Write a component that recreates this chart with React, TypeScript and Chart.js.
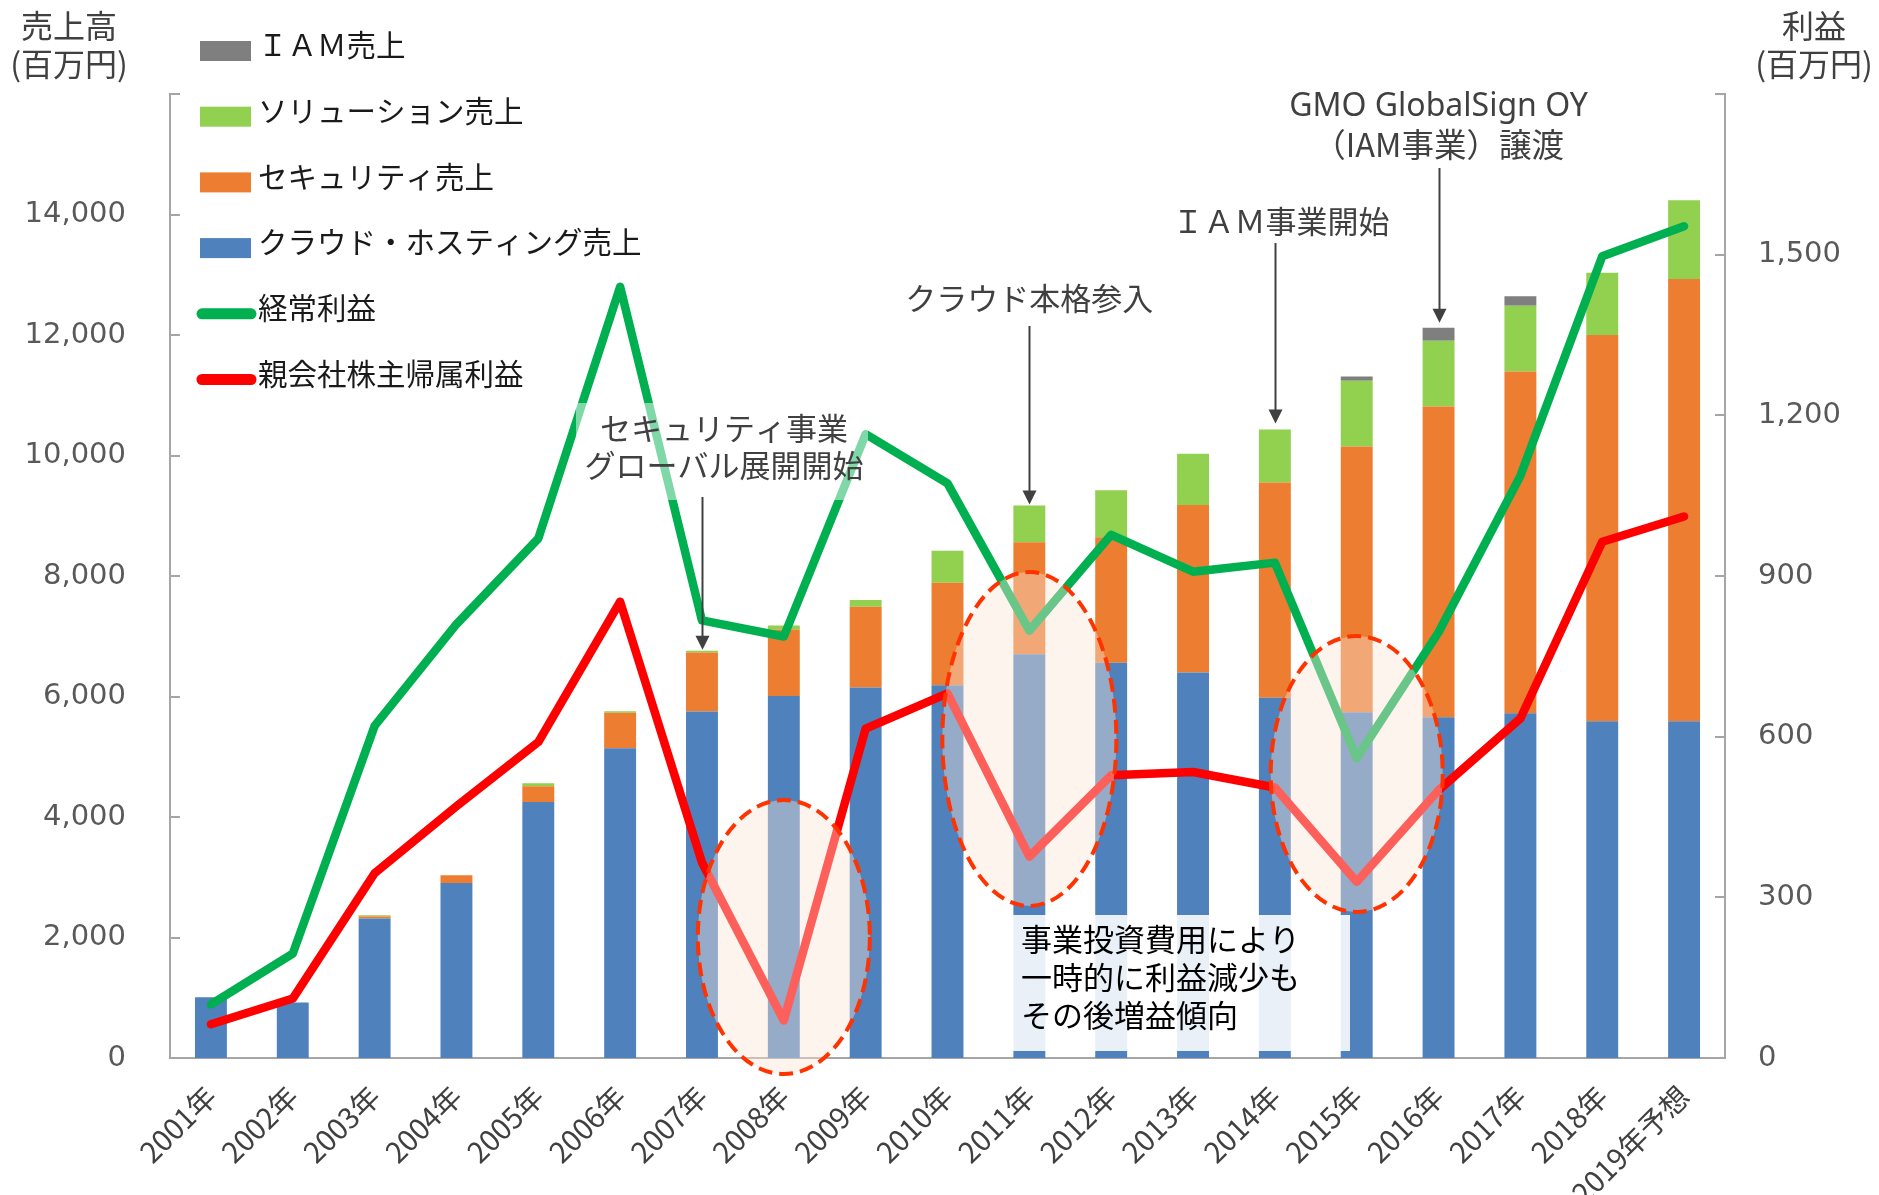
import React, { useEffect, useRef } from 'react';
import { Chart, registerables } from 'chart.js';

Chart.register(...registerables);

// ---- data ----
const categories = ['2001年', '2002年', '2003年', '2004年', '2005年', '2006年', '2007年', '2008年', '2009年', '2010年', '2011年', '2012年', '2013年', '2014年', '2015年', '2016年', '2017年', '2018年', '2019年予想'];

const cloudSales = [1010, 920, 2315, 2905, 4250, 5140, 5750, 6010, 6150, 6185, 6700, 6560, 6400, 5980, 5740, 5655, 5720, 5590, 5590];
const securitySales = [0, 0, 35, 130, 260, 590, 980, 1100, 1340, 1705, 1860, 2085, 2780, 3570, 4410, 5160, 5675, 6410, 7340];
const solutionSales = [0, 0, 20, 0, 50, 25, 30, 70, 110, 530, 610, 780, 850, 880, 1090, 1090, 1090, 1035, 1305];
const iamSales = [0, 0, 0, 0, 0, 0, 0, 0, 0, 0, 0, 0, 0, 0, 70, 215, 160, 0, 0];

const ordinaryProfit = [100, 195, 620, 810, 970, 1440, 817, 787, 1165, 1073, 798, 977, 908, 925, 560, 795, 1087, 1497, 1553];
const netProfit = [63, 111, 345, 470, 590, 852, 365, 70, 615, 681, 376, 528, 534, 505, 329, 500, 634, 964, 1011];

const seriesNames = ['クラウド・ホスティング売上', 'セキュリティ売上', 'ソリューション売上', 'ＩＡＭ売上', '経常利益', '親会社株主帰属利益'];
const legendOrder = [3, 2, 1, 0, 4, 5];

const leftAxisMax = 16000;
const leftAxisStep = 2000;
const rightAxisMax = 1800;
const rightAxisStep = 300;

const leftAxisTitle = ['売上高', '(百万円)'];
const rightAxisTitle = ['利益', '(百万円)'];

const COLORS = ['#4F81BD', '#ED7D31', '#92D050', '#7F7F7F', '#00B050', '#FF0000'];

const JP = '"Noto Sans CJK JP", "Noto Sans", sans-serif';
const LATIN = '"Noto Sans", "Noto Sans CJK JP", sans-serif';
const NUM = '"DejaVu Sans", sans-serif';

const totalAt = (i: number) => cloudSales[i] + securitySales[i] + solutionSales[i] + iamSales[i];

const overlayPlugin = {
  id: 'overlay',
  afterDraw(chart: any) {
    const ctx = chart.ctx as CanvasRenderingContext2D;
    const { left, right } = chart.chartArea;
    const xs = chart.scales.x;
    const ys = chart.scales.y;
    const y1 = chart.scales.y1;

    ctx.save();

    // inside tick marks
    ctx.strokeStyle = '#A6A6A6';
    ctx.lineWidth = 2;
    for (let v = 0; v <= leftAxisMax; v += leftAxisStep) {
      const p = Math.round(ys.getPixelForValue(v));
      ctx.beginPath();
      ctx.moveTo(left, p);
      ctx.lineTo(left + 10, p);
      ctx.stroke();
    }
    for (let v = 0; v <= rightAxisMax; v += rightAxisStep) {
      const p = Math.round(y1.getPixelForValue(v));
      ctx.beginPath();
      ctx.moveTo(right, p);
      ctx.lineTo(right - 10, p);
      ctx.stroke();
    }

    // ellipses
    const ellipses = [
      { idx: 7, cy: 937, rx: 86, ry: 137 },
      { idx: 10, cy: 739, rx: 87, ry: 167 },
      { idx: 14, cy: 774, rx: 86, ry: 138 },
    ];
    for (const e of ellipses) {
      const cx = xs.getPixelForValue(e.idx);
      ctx.beginPath();
      ctx.ellipse(cx, e.cy, e.rx, e.ry, 0, 0, Math.PI * 2);
      ctx.fillStyle = 'rgba(251,229,214,0.42)';
      ctx.fill();
      ctx.setLineDash([14, 7]);
      ctx.lineWidth = 4;
      ctx.strokeStyle = '#FF3300';
      ctx.stroke();
      ctx.setLineDash([]);
    }

    // translucent box behind first annotation
    ctx.fillStyle = 'rgba(255,255,255,0.5)';
    ctx.fillRect(576, 403, 292, 97);

    const arrow = (x: number, yStart: number, yTip: number) => {
      ctx.strokeStyle = '#404040';
      ctx.fillStyle = '#404040';
      ctx.lineWidth = 2;
      ctx.beginPath();
      ctx.moveTo(x, yStart);
      ctx.lineTo(x, yTip - 12);
      ctx.stroke();
      ctx.beginPath();
      ctx.moveTo(x - 7, yTip - 14);
      ctx.lineTo(x + 7, yTip - 14);
      ctx.lineTo(x, yTip);
      ctx.closePath();
      ctx.fill();
    };

    const annotations = [
      { idx: 6, lines: ['セキュリティ事業', 'グローバル展開開始'], fonts: [`31px ${JP}`, `31px ${JP}`], cx: 724, ys: [428, 465], from: 497, gap: 1 },
      { idx: 10, lines: ['クラウド本格参入'], fonts: [`31px ${JP}`], cx: null, ys: [298], from: 326, gap: 1 },
      { idx: 13, lines: ['ＩＡＭ事業開始'], fonts: [`31px ${JP}`], cx: 1281, ys: [221], from: 243, gap: 6 },
      { idx: 15, lines: ['GMO GlobalSign OY', '（IAM事業）譲渡'], fonts: [`32px ${LATIN}`, `32.5px ${JP}`], cx: null, ys: [107, 145], from: 168, gap: 5 },
    ];
    for (const a of annotations) {
      const x = xs.getPixelForValue(a.idx);
      const tip = ys.getPixelForValue(totalAt(a.idx)) - a.gap;
      arrow(Math.round(x) + 0.5, a.from, tip);
      ctx.fillStyle = '#404040';
      ctx.textAlign = 'center';
      ctx.textBaseline = 'middle';
      a.lines.forEach((t, k) => {
        ctx.font = a.fonts[k];
        ctx.fillText(t, a.cx ?? x, a.ys[k]);
      });
    }

    // comment box
    ctx.fillStyle = 'rgba(255,255,255,0.88)';
    ctx.fillRect(1012, 915, 338, 136);
    ctx.fillStyle = '#000000';
    ctx.textAlign = 'left';
    ctx.textBaseline = 'middle';
    ctx.font = `31px ${JP}`;
    ['事業投資費用により', '一時的に利益減少も', 'その後増益傾向'].forEach((t, k) => ctx.fillText(t, 1021, 939 + k * 38));

    // axis titles
    ctx.fillStyle = '#404040';
    ctx.textAlign = 'center';
    ctx.font = `32px ${JP}`;
    ctx.fillText(leftAxisTitle[0], 69, 26);
    ctx.fillText(leftAxisTitle[1], 69, 64);
    ctx.fillText(rightAxisTitle[0], 1814, 26);
    ctx.fillText(rightAxisTitle[1], 1814, 64);

    // legend
    ctx.textAlign = 'left';
    ctx.font = `29.5px ${JP}`;
    legendOrder.forEach((di, row) => {
      const cy = 51 + row * 65.7;
      const color = COLORS[di];
      if (di < 4) {
        ctx.fillStyle = color;
        ctx.fillRect(200, cy - 10, 51, 20);
      } else {
        ctx.strokeStyle = color;
        ctx.lineWidth = 11;
        ctx.lineCap = 'round';
        ctx.beginPath();
        ctx.moveTo(202, cy);
        ctx.lineTo(251, cy);
        ctx.stroke();
        ctx.lineCap = 'butt';
      }
      ctx.fillStyle = '#1a1a1a';
      ctx.fillText(seriesNames[di], 258, cy - 6);
    });

    ctx.restore();
  },
};

export default function App() {
  const ref = useRef<HTMLCanvasElement>(null);

  useEffect(() => {
    document.body.style.margin = '0';
    const canvas = ref.current!;
    const barBase = { type: 'bar' as const, yAxisID: 'y', order: 1, barPercentage: 0.39, categoryPercentage: 1, borderWidth: 0 };
    const lineBase = {
      type: 'line' as const, yAxisID: 'y1', order: 0, borderWidth: 8.5, pointRadius: 0, pointHoverRadius: 0,
      fill: false, tension: 0, borderJoinStyle: 'round' as const, borderCapStyle: 'round' as const,
    };
    const chart = new Chart(canvas, {
      type: 'bar',
      data: {
        labels: categories,
        datasets: [
          { ...barBase, label: seriesNames[0], data: cloudSales, backgroundColor: COLORS[0] },
          { ...barBase, label: seriesNames[1], data: securitySales, backgroundColor: COLORS[1] },
          { ...barBase, label: seriesNames[2], data: solutionSales, backgroundColor: COLORS[2] },
          { ...barBase, label: seriesNames[3], data: iamSales, backgroundColor: COLORS[3] },
          { ...lineBase, label: seriesNames[4], data: ordinaryProfit, borderColor: COLORS[4], backgroundColor: COLORS[4] },
          { ...lineBase, label: seriesNames[5], data: netProfit, borderColor: COLORS[5], backgroundColor: COLORS[5] },
        ] as any,
      },
      options: {
        responsive: false,
        animation: false,
        devicePixelRatio: 1,
        layout: { padding: { top: 94, left: 0, right: 0, bottom: 0 } },
        plugins: { legend: { display: false }, tooltip: { enabled: false }, title: { display: false } },
        scales: {
          x: {
            stacked: true,
            offset: true,
            grid: { display: false, drawTicks: false },
            border: { display: true, color: '#A6A6A6', width: 2 },
            ticks: { color: '#404040', font: { family: JP, size: 29 }, minRotation: 45, maxRotation: 45, padding: 21, autoSkip: false },
            afterFit: (s: any) => { s.height = 137; },
          },
          y: {
            position: 'left',
            stacked: true,
            min: 0,
            max: leftAxisMax,
            grid: { display: false, drawTicks: false },
            border: { display: true, color: '#A6A6A6', width: 2 },
            ticks: {
              stepSize: leftAxisStep, padding: 44, color: '#595959', font: { family: NUM, size: 29 },
              callback: (v: any) => (Number(v) >= leftAxisMax ? '' : Number(v).toLocaleString('en-US')),
            },
            afterFit: (s: any) => { s.width = 170; },
          },
          y1: {
            position: 'right',
            min: 0,
            max: rightAxisMax,
            grid: { display: false, drawTicks: false },
            border: { display: true, color: '#A6A6A6', width: 2 },
            ticks: {
              stepSize: rightAxisStep, padding: 33, color: '#595959', font: { family: NUM, size: 29 },
              callback: (v: any) => (Number(v) >= rightAxisMax ? '' : Number(v).toLocaleString('en-US')),
            },
            afterFit: (s: any) => { s.width = 154; },
          },
        },
      } as any,
      plugins: [overlayPlugin],
    });
    return () => chart.destroy();
  }, []);

  return (
    <div style={{ width: 1879, height: 1195 }}>
      <canvas ref={ref} width={1879} height={1195} style={{ display: 'block' }} />
    </div>
  );
}
